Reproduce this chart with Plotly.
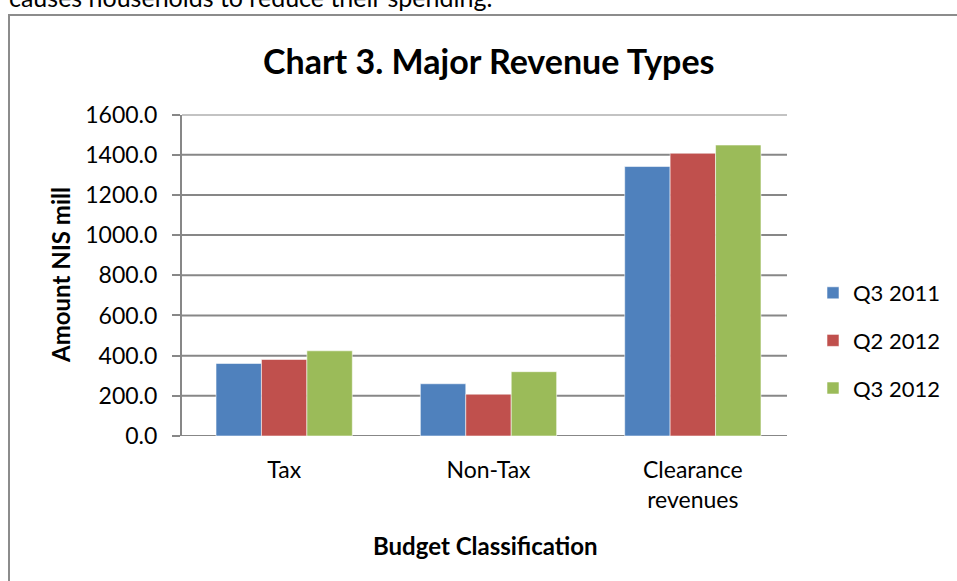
import plotly.graph_objects as go

# Revenue by budget classification (NIS million)
categories = ["Tax", "Non-Tax", "Clearance<br>revenues"]
q3_2011 = [361.0, 260.0, 1341.0]
q2_2012 = [381.0, 208.0, 1407.0]
q3_2012 = [424.0, 320.0, 1448.0]
series_names = ["Q3 2011", "Q2 2012", "Q3 2012"]
series_colors = ["#4F81BD", "#C0504D", "#9BBB59"]
y_ticks = [0, 200, 400, 600, 800, 1000, 1200, 1400, 1600]

W, H = 957, 581
FONT = "Lato"
GRID = "#878787"


def px_x(v):
    return v / W


def px_y(v):
    return 1 - v / H


fig = go.Figure()
for name, vals, col in zip(series_names, [q3_2011, q2_2012, q3_2012], series_colors):
    fig.add_trace(go.Bar(
        x=categories, y=vals, name=name, legendgroup=name,
        marker=dict(color=col, line=dict(color="rgba(255,255,255,0.55)", width=1)),
    ))

# Horizontal gridlines (incl. the category baseline) stop a little short of the
# right end of the category band, so they are drawn as layer-below shapes.
grid_shapes = [
    dict(type="line", xref="paper", yref="y", layer="below",
         x0=px_x(182), x1=px_x(787), y0=t, y1=t,
         line=dict(color=GRID, width=2))
    for t in y_ticks
]

fig.update_layout(
    width=W, height=H,
    margin=dict(l=0, r=0, t=0, b=0, autoexpand=False),
    paper_bgcolor="white", plot_bgcolor="white",
    barmode="group", bargap=0.333, bargroupgap=0,
    font=dict(family=FONT, size=23, color="black"),
    showlegend=True,
    legend=dict(
        x=px_x(813), y=px_y(272), xanchor="left", yanchor="top",
        font=dict(family=FONT, size=22, color="black"),
        tracegroupgap=16, itemwidth=30,
        bgcolor="rgba(0,0,0,0)",
    ),
    xaxis=dict(
        domain=[px_x(182), px_x(795)],
        automargin=False,
        showline=False,
        ticks="", showgrid=False,
        tickfont=dict(family=FONT, size=23),
        ticklabelstandoff=18,
    ),
    yaxis=dict(
        domain=[px_y(436), px_y(114.5)],
        automargin=False,
        range=[0, 1600], tickvals=y_ticks,
        tickformat=".1f",
        showline=True, linecolor=GRID, linewidth=2,
        ticks="outside", ticklen=8, tickcolor=GRID, tickwidth=2,
        showgrid=False,
        zeroline=False,
        tickfont=dict(family=FONT, size=23),
        ticklabelstandoff=10,
    ),
    shapes=grid_shapes + [
        dict(type="rect", xref="paper", yref="paper",
             x0=px_x(9), x1=px_x(970), y0=px_y(600), y1=px_y(15),
             line=dict(color="#8C8C8C", width=2), fillcolor="rgba(0,0,0,0)"),
    ],
    annotations=[
        dict(text="causes households to reduce their spending.", xref="paper", yref="paper",
             x=px_x(7), y=px_y(-3), xanchor="left", yanchor="middle",
             showarrow=False, font=dict(family=FONT, size=25)),
        dict(text="<b>Chart 3. Major Revenue Types</b>", xref="paper", yref="paper",
             x=px_x(489), y=px_y(61), xanchor="center", yanchor="middle",
             showarrow=False, font=dict(family=FONT, size=34)),
        dict(text="<b>Amount NIS mill</b>", xref="paper", yref="paper",
             x=px_x(60), y=px_y(275), xanchor="center", yanchor="middle",
             textangle=-90, showarrow=False, font=dict(family=FONT, size=24)),
        dict(text="<b>Budget Classification</b>", xref="paper", yref="paper",
             x=px_x(485), y=px_y(545), xanchor="center", yanchor="middle",
             showarrow=False, font=dict(family=FONT, size=24)),
    ],
)

fig.write_html("out.html")
